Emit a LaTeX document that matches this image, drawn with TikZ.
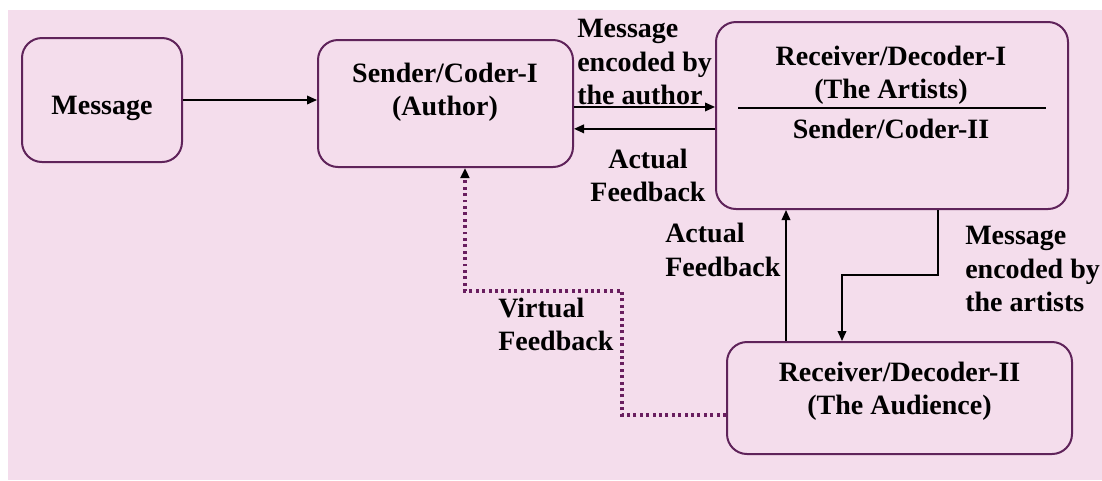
\documentclass[tikz,border=0pt]{standalone}
\usepackage{fontspec}
\setmainfont{Liberation Serif}
\usetikzlibrary{arrows.meta}
\definecolor{bgpink}{RGB}{244,221,236}
\definecolor{rimpurple}{RGB}{95,35,90}
\definecolor{dotpurple}{RGB}{105,30,95}
\begin{document}
\begin{tikzpicture}[x=0.75pt,y=-0.75pt,
    font=\fontsize{21}{25}\selectfont\bfseries,
    box/.style={draw=rimpurple,line width=1.5pt,rounded corners=15pt,fill=bgpink,inner sep=0pt},
    txt/.style={align=center,inner sep=0pt},
    lbl/.style={align=left,anchor=west,inner sep=0pt},
    arr/.style={-{Triangle[length=7.5pt,width=6.5pt]},line width=1.1pt},
    vfb/.style={dotpurple,line width=2.6pt,dash pattern=on 2.2pt off 2.6pt,
      -{Triangle[length=7.5pt,width=6.5pt,color=black]}}]
  \useasboundingbox (0,0) rectangle (1102,480);
  \fill[bgpink] (8,10) rectangle (1102,480);

  % boxes
  \node[box,minimum width=120pt,minimum height=93pt] (msg) at (102,100) {};
  \node[box,minimum width=191.25pt,minimum height=95.25pt] (snd) at (445.5,103.5) {};
  \node[box,minimum width=264pt,minimum height=140.25pt] (rec1) at (892,115.5) {};
  \node[box,minimum width=258.75pt,minimum height=84pt] (rec2) at (899.5,398) {};

  % box texts
  \node[txt] (msgtxt) at (102,108) {Message};
  \node[txt] (sndtxt) at (445,92) {Sender/Coder-I\\(Author)};
  \node[txt] (rec1top) at (891,75) {Receiver/Decoder-I\\(The Artists)};
  \node[txt] (rec1bot) at (891,129) {Sender/Coder-II};
  \node[txt] (rec2txt) at (899.5,391) {Receiver/Decoder-II\\(The Audience)};
  \draw[line width=1.1pt] (738,108) -- (1046,108);

  % connector labels
  \node[lbl] (authlbl) at (577,62) {Message\\encoded by\\the author};
  \node[txt] (fb1lbl) at (648,175.5) {Actual\\Feedback};
  \node[lbl] (fb2lbl) at (665,250) {Actual\\Feedback};
  \node[lbl] (artlbl) at (965,269) {Message\\encoded by\\the artists};
  \node[lbl] (vfblbl) at (498,324.5) {Virtual\\Feedback};

  % connectors
  \draw[arr] (msg.east) -- (msg.east -| snd.west);
  \draw[arr] ([yshift=-2.6pt]snd.east) -- ([yshift=-2.6pt]snd.east -| rec1.west);
  \draw[arr] ([yshift=-19pt]snd.east -| rec1.west) -- ([yshift=-19pt]snd.east);
  \draw[arr] ([xshift=45pt]rec2.north west) -- ([xshift=45pt]rec2.north west |- rec1.south);
  \draw[arr] ([xshift=34.5pt]rec1.south) -- ++(0,65) -| ([xshift=87pt]rec2.north west);
  \draw[vfb] ([yshift=-12.75pt]rec2.west) -- ++(-104,0) -- ++(0,-124) -| ([xshift=14.6pt]snd.south);
\end{tikzpicture}
\end{document}
